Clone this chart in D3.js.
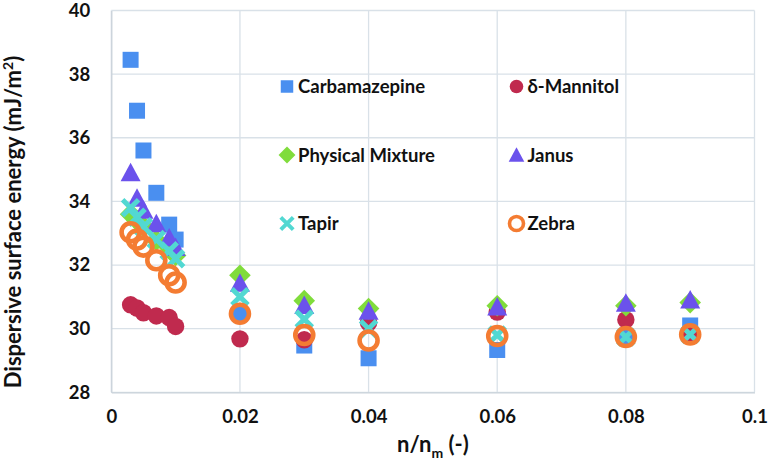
<!DOCTYPE html>
<html>
<head>
<meta charset="utf-8">
<script src="https://cdn.jsdelivr.net/npm/d3@7"></script>
<style>
  html, body { margin: 0; padding: 0; background: #ffffff; }
  svg { display: block; }
  text { font-family: Lato, "Open Sans", sans-serif; font-weight: bold; fill: #111; }
</style>
</head>
<body>
<svg id="chart" width="769" height="461"></svg>
<script>
// ---------- data ----------
const loadings = [0.003, 0.004, 0.005, 0.007, 0.009, 0.01, 0.02, 0.03, 0.04, 0.06, 0.08, 0.09];
const carbamazepine = [38.45, 36.85, 35.6, 34.27, 33.27, 32.8, 30.47, 29.47, 29.07, 29.33, 29.75, 30.1];
const mannitol      = [30.75, 30.65, 30.5, 30.4, 30.35, 30.07, 29.68, 29.65, 30.18, 30.52, 30.28, 29.8];
const physical      = [33.6, 33.4, 33.2, 32.78, 32.55, 32.3, 31.68, 30.88, 30.63, 30.72, 30.72, 30.82];
const janus         = [34.9, 34.1, 33.72, 33.3, 32.85, 32.55, 31.43, 30.73, 30.55, 30.68, 30.8, 30.9];
const tapir         = [33.8, 33.5, 33.2, 32.8, 32.45, 32.2, 31.0, 30.3, 30.0, 29.8, 29.74, 29.82];
const zebra         = [33.03, 32.8, 32.58, 32.15, 31.68, 31.45, 30.47, 29.8, 29.63, 29.77, 29.74, 29.82];

const seriesNames = ["Carbamazepine", "δ-Mannitol", "Physical Mixture", "Janus", "Tapir", "Zebra"];
const seriesValues = [carbamazepine, mannitol, physical, janus, tapir, zebra];
const seriesShapes = ["square", "circle", "diamond", "triangle", "cross", "ring"];
const seriesColors = ["#4a8ff0", "#c02a4e", "#80dc3c", "#6b52ec", "#52d8d2", "#f47c32"];

const xTicks = [0, 0.02, 0.04, 0.06, 0.08, 0.1];
const xTickLabels = ["0", "0.02", "0.04", "0.06", "0.08", "0.1"];
const yTicks = [28, 30, 32, 34, 36, 38, 40];
const yTickLabels = ["28", "30", "32", "34", "36", "38", "40"];

// ---------- layout ----------
const svg = d3.select("#chart");
const plot = { left: 111.3, right: 754.5, top: 10.5, bottom: 392.3 };

const x = d3.scaleLinear().domain([0, 0.1]).range([plot.left, plot.right]);
const y = d3.scaleLinear().domain([28, 40]).range([plot.bottom, plot.top]);

const gridColor = "#d9e1e8";

// gridlines
svg.append("g").selectAll("line.h").data(yTicks).join("line")
  .attr("x1", plot.left).attr("x2", plot.right)
  .attr("y1", d => y(d)).attr("y2", d => y(d))
  .attr("stroke", gridColor).attr("stroke-width", 1.3);
svg.append("g").selectAll("line.v").data(xTicks).join("line")
  .attr("x1", d => x(d)).attr("x2", d => x(d))
  .attr("y1", plot.top).attr("y2", plot.bottom)
  .attr("stroke", gridColor).attr("stroke-width", 1.3);

// axes
const xAxis = d3.axisBottom(x).tickValues(xTicks)
  .tickFormat((d, i) => xTickLabels[i]).tickSize(0).tickPadding(18);
const gx = svg.append("g").attr("transform", `translate(0,${plot.bottom})`).call(xAxis);
gx.select(".domain").attr("stroke", "#c9d2da").attr("stroke-width", 1.3);
gx.selectAll("text").style("font-size", "18.5px").style("font-family", "Lato").style("font-weight", "bold").attr("fill", "#111");

const yAxis = d3.axisLeft(y).tickValues(yTicks)
  .tickFormat((d, i) => yTickLabels[i]).tickSize(0).tickPadding(21);
const gy = svg.append("g").attr("transform", `translate(${plot.left},0)`).call(yAxis);
gy.select(".domain").attr("stroke", "#c9d2da").attr("stroke-width", 1.3);
gy.selectAll("text").style("font-size", "18.5px").style("font-family", "Lato").style("font-weight", "bold").attr("fill", "#111");

// axis titles
const xt = svg.append("text").attr("x", (plot.left + plot.right) / 2).attr("y", 452)
  .attr("text-anchor", "middle").style("font-size", "22px");
xt.append("tspan").text("n/n");
xt.append("tspan").text("m").attr("dy", 6).style("font-size", "14px");
xt.append("tspan").text(" (-)").attr("dy", -6);

const yt = svg.append("text").attr("transform", "translate(21,222) rotate(-90)")
  .attr("text-anchor", "middle").style("font-size", "22px");
yt.append("tspan").text("Dispersive surface energy (mJ/m");
yt.append("tspan").text("2").attr("dy", -8).style("font-size", "14px");
yt.append("tspan").text(")").attr("dy", 8);

// ---------- markers ----------
function drawMarker(g, shape, color, s) {
  // s = scale factor (1 for data markers)
  if (shape === "square") {
    const h = 8 * s;
    g.append("rect").attr("x", -h).attr("y", -h).attr("width", 2 * h).attr("height", 2 * h).attr("fill", color);
  } else if (shape === "circle") {
    g.append("circle").attr("r", 8.7 * s).attr("fill", color);
  } else if (shape === "diamond") {
    const h = 10.8 * s;
    g.append("path").attr("d", `M0,${-h}L${h},0L0,${h}L${-h},0Z`).attr("fill", color);
  } else if (shape === "triangle") {
    const w = 10 * s, hh = 10 * s;
    g.append("path").attr("d", `M0,${-hh}L${w},${hh * 0.85}L${-w},${hh * 0.85}Z`).attr("fill", color);
  } else if (shape === "cross") {
    const h = 8 * s;
    g.append("path").attr("d", `M${-h},${-h}L${h},${h}M${h},${-h}L${-h},${h}`)
      .attr("stroke", color).attr("stroke-width", 5 * s).attr("fill", "none");
  } else if (shape === "ring") {
    g.append("circle").attr("r", 9 * s).attr("fill", "none")
      .attr("stroke", color).attr("stroke-width", 4.6 * s);
  }
}

seriesValues.forEach((vals, si) => {
  const g = svg.append("g");
  vals.forEach((v, i) => {
    const m = g.append("g").attr("transform", `translate(${x(loadings[i])},${y(v)})`);
    drawMarker(m, seriesShapes[si], seriesColors[si], 1);
  });
});

// ---------- legend ----------
const legendCols = [287, 516.5];
const legendRows = [86.5, 155, 223.5];
seriesNames.forEach((name, i) => {
  const cx = legendCols[i % 2], cy = legendRows[Math.floor(i / 2)];
  const m = svg.append("g").attr("transform", `translate(${cx},${cy})`);
  drawMarker(m, seriesShapes[i], seriesColors[i], 0.78);
  svg.append("text").attr("x", cx + 11).attr("y", cy + 6.5)
    .style("font-size", "18.5px").text(name);
});
</script>
</body>
</html>
